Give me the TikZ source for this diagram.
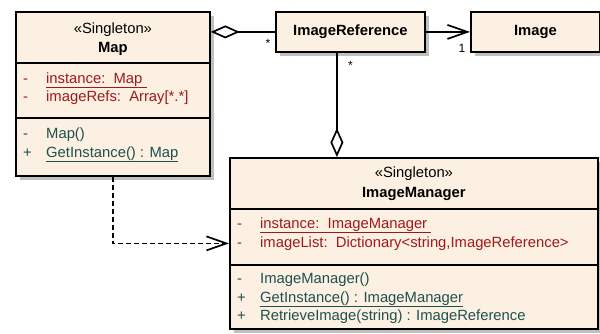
\documentclass[tikz,border=0pt]{standalone}
\usepackage{fontspec}
\setmainfont{Liberation Sans}
\usepackage{xcolor}
\definecolor{classfill}{RGB}{251, 240, 226}
\definecolor{attrred}{RGB}{160, 25, 25}
\definecolor{opteal}{RGB}{30, 80, 80}
\definecolor{shade}{RGB}{192, 192, 192}
\usetikzlibrary{positioning,arrows.meta,shadows}
\newcommand{\vis}[1]{\makebox[23pt][l]{#1}}

\tikzset{
  every node/.style={font=\fontsize{14.8}{17}\selectfont},
  classbox/.style={draw=black, line width=1.8pt, fill=classfill, anchor=north west,
    inner sep=0pt, drop shadow={shadow xshift=4pt, shadow yshift=-4pt, fill=shade, opacity=1}},
  stereo/.style={anchor=base, inner sep=0pt},
  member/.style={anchor=base west, inner sep=0pt},
  attrline/.style={member, text=attrred},
  opline/.style={member, text=opteal},
  link/.style={line width=1.7pt},
  aggr/.style={link, {Diamond[open, length=29pt, width=13pt]}-},
  nav/.style={link, -{Straight Barb[length=20pt, width=14pt]}},
  dep/.style={nav, dash pattern=on 5pt off 3pt},
  mult/.style={inner sep=0pt, font=\fontsize{12}{14}\selectfont}
}

\begin{document}
\begin{tikzpicture}[x=1pt, y=1pt]
  \useasboundingbox (0,0) rectangle (600,-333);

  % classes
  \node[classbox, minimum width=194pt, minimum height=164pt] (map) at (15,-11) {};
  \node[classbox, minimum width=149pt, minimum height=40pt, font=\fontsize{14.8}{17}\selectfont\bfseries] (imgref) at (275,-11) {ImageReference};
  \node[classbox, minimum width=129pt, minimum height=40pt, font=\fontsize{14.8}{17}\selectfont\bfseries] (image) at (470,-11) {Image};
  \node[classbox, minimum width=368pt, minimum height=171pt] (imgmgr) at (229,-157) {};

  % Map compartments
  \draw[line width=1.8pt] ([yshift=-52pt]map.north west) -- ([yshift=-52pt]map.north east);
  \draw[line width=1.8pt] ([yshift=-107pt]map.north west) -- ([yshift=-107pt]map.north east);
  \node[stereo] (mapstereo) at ([yshift=-22pt]map.north) {«Singleton»};
  \node[stereo, font=\fontsize{14.8}{17}\selectfont\bfseries] (mapname) at ([yshift=-41pt]map.north) {Map};
  \node[attrline] (mapa1) at ([xshift=8pt, yshift=-72pt]map.north west) {\vis{-}\underline{instance:\ \ Map\ }};
  \node[attrline] (mapa2) at ([xshift=8pt, yshift=-90pt]map.north west) {\vis{-}imageRefs:\ \ Array[*.*]};
  \node[opline] (mapo1) at ([xshift=8pt, yshift=-127pt]map.north west) {\vis{-}Map()};
  \node[opline] (mapo2) at ([xshift=8pt, yshift=-146pt]map.north west) {\vis{+}\underline{GetInstance() : Map}};

  % ImageManager compartments
  \draw[line width=1.8pt] ([yshift=-52pt]imgmgr.north west) -- ([yshift=-52pt]imgmgr.north east);
  \draw[line width=1.8pt] ([yshift=-108pt]imgmgr.north west) -- ([yshift=-108pt]imgmgr.north east);
  \node[stereo] (mgrstereo) at ([yshift=-20pt]imgmgr.north) {«Singleton»};
  \node[stereo, font=\fontsize{14.8}{17}\selectfont\bfseries] (mgrname) at ([yshift=-40pt]imgmgr.north) {ImageManager};
  \node[attrline] (mgra1) at ([xshift=8pt, yshift=-71pt]imgmgr.north west) {\vis{-}\underline{instance:\ \ ImageManager\ }};
  \node[attrline] (mgra2) at ([xshift=8pt, yshift=-90pt]imgmgr.north west) {\vis{-}imageList:\ \ Dictionary<string,ImageReference>};
  \node[opline] (mgro1) at ([xshift=8pt, yshift=-126pt]imgmgr.north west) {\vis{-}ImageManager()};
  \node[opline] (mgro2) at ([xshift=8pt, yshift=-145pt]imgmgr.north west) {\vis{+}\underline{GetInstance() : ImageManager}};
  \node[opline] (mgro3) at ([xshift=8pt, yshift=-163pt]imgmgr.north west) {\vis{+}RetrieveImage(string) : ImageReference};

  % associations
  \draw[aggr] (imgref.west -| map.east) -- (imgref.west);
  \draw[nav] (imgref.east) -- (image.west);
  \coordinate (refdrop) at ([xshift=-13.5pt]imgref.south);
  \draw[aggr] (refdrop |- imgmgr.north) -- (refdrop);
  \draw[dep] (map.south) |- (imgmgr.west);

  % multiplicities
  \node[mult] (m1) at ([xshift=-7pt, yshift=-11pt]imgref.west) {*};
  \node[mult] (m2) at ([xshift=0pt, yshift=-13pt]imgref.south) {*};
  \node[mult] (m3) at ([xshift=-8pt, yshift=-16pt]image.west) {1};
\end{tikzpicture}
\end{document}
